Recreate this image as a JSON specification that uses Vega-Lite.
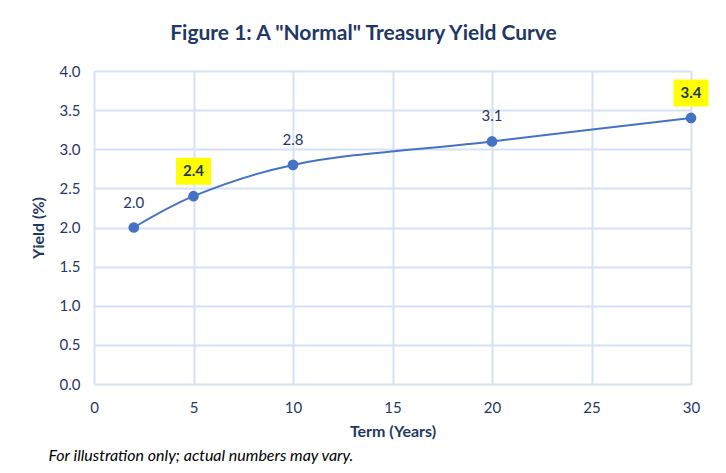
{
  "$schema": "https://vega.github.io/schema/vega-lite/v6.json",
  "width": 597,
  "height": 313,
  "autosize": "none",
  "padding": {"left": 94, "top": 71, "right": 35, "bottom": 89},
  "background": "white",
  "title": {
    "text": "Figure 1: A \"Normal\" Treasury Yield Curve",
    "font": "Lato",
    "fontSize": 21,
    "fontWeight": "bold",
    "color": "#1f3864",
    "anchor": "middle",
    "dx": -29,
    "offset": 20
  },
  "config": {
    "view": {"stroke": null},
    "axis": {
      "labelFont": "Lato",
      "titleFont": "Lato",
      "labelColor": "#1f3864",
      "titleColor": "#1f3864",
      "labelFontSize": 15,
      "titleFontSize": 16,
      "titleFontWeight": "bold",
      "gridColor": "#d6e2f3",
      "gridWidth": 2,
      "domain": false,
      "ticks": false,
      "labelFlush": false
    }
  },
  "data": {
    "values": [
      {"term": 2, "yield": 2.0, "highlight": false},
      {"term": 5, "yield": 2.4, "highlight": true},
      {"term": 10, "yield": 2.8, "highlight": false},
      {"term": 20, "yield": 3.1, "highlight": false},
      {"term": 30, "yield": 3.4, "highlight": true}
    ]
  },
  "resolve": {"axis": {"x": "independent"}},
  "layer": [
    {
      "encoding": {
        "x": {
          "field": "term",
          "type": "quantitative",
          "scale": {"domain": [0, 30], "nice": false},
          "axis": {
            "orient": "bottom",
            "title": "Term (Years)",
            "values": [0, 5, 10, 15, 20, 25, 30],
            "labelPadding": 16,
            "titlePadding": 8
          }
        },
        "y": {
          "field": "yield",
          "type": "quantitative",
          "scale": {"domain": [0, 4], "nice": false},
          "axis": {
            "title": "Yield (%)",
            "values": [0, 0.5, 1, 1.5, 2, 2.5, 3, 3.5, 4],
            "format": ".1f",
            "labelPadding": 14,
            "titlePadding": 13
          }
        }
      },
      "layer": [
        {
          "mark": {"type": "line", "color": "#4472c4", "strokeWidth": 2, "interpolate": "catmull-rom"}
        },
        {
          "mark": {"type": "circle", "color": "#4472c4", "opacity": 1, "size": 115}
        },
        {
          "transform": [{"filter": "datum.highlight"}],
          "mark": {
            "type": "point",
            "shape": "M-1,-0.77H1V0.77H-1Z",
            "filled": true,
            "color": "#ffff00",
            "opacity": 1,
            "size": 1225,
            "yOffset": -25
          }
        },
        {
          "transform": [{"filter": "!datum.highlight"}],
          "mark": {
            "type": "text",
            "font": "Lato",
            "fontSize": 15,
            "color": "#1f3864",
            "baseline": "middle",
            "yOffset": -25
          },
          "encoding": {"text": {"field": "yield", "type": "quantitative", "format": ".1f"}}
        },
        {
          "transform": [{"filter": "datum.highlight"}],
          "mark": {
            "type": "text",
            "font": "Lato",
            "fontSize": 15,
            "fontWeight": "bold",
            "color": "#1f3864",
            "baseline": "middle",
            "yOffset": -25
          },
          "encoding": {"text": {"field": "yield", "type": "quantitative", "format": ".1f"}}
        }
      ]
    },
    {
      "mark": {"type": "point", "opacity": 0},
      "encoding": {
        "x": {
          "field": "term",
          "type": "quantitative",
          "axis": {
            "orient": "bottom",
            "title": "For illustration only; actual numbers may vary.",
            "labels": false,
            "grid": false,
            "titleFontWeight": "normal",
            "titleFontStyle": "italic",
            "titleColor": "black",
            "titleFontSize": 16,
            "titleAnchor": "start",
            "titleAlign": "left",
            "titleBaseline": "middle",
            "titleX": -46,
            "titleY": 71
          }
        }
      }
    }
  ]
}
